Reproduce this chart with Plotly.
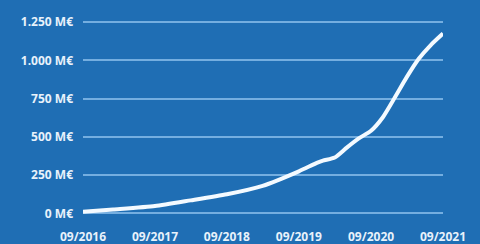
import plotly.graph_objects as go

dates = ["2016-09-01", "2017-02-01", "2017-09-01", "2018-03-01", "2018-09-01",
         "2019-03-01", "2019-09-01", "2019-12-01", "2020-01-01", "2020-03-01",
         "2020-05-01", "2020-07-01", "2020-09-01", "2020-11-01", "2021-01-01",
         "2021-03-01", "2021-05-01", "2021-07-01", "2021-09-01"]
values = [10, 25, 48, 85, 125, 180, 275, 330, 345, 365, 430, 490, 540, 630, 760,
          890, 1010, 1100, 1175]

x_tickvals = ["2016-09-01", "2017-09-01", "2018-09-01", "2019-09-01", "2020-09-01", "2021-09-01"]
x_ticktext = ["09/2016", "09/2017", "09/2018", "09/2019", "09/2020", "09/2021"]
y_tickvals = [0, 250, 500, 750, 1000, 1250]
y_ticktext = ["0 M€", "250 M€", "500 M€", "750 M€", "1.000 M€", "1.250 M€"]

bg = "#1f6eb4"
grid = "#74aee0"

fig = go.Figure()
fig.add_trace(go.Scatter(
    x=dates, y=values, mode="lines",
    line=dict(color="#f4faff", width=4, shape="spline", smoothing=0.6),
    hoverinfo="skip", showlegend=False,
))

fig.update_layout(
    width=480, height=244,
    paper_bgcolor=bg, plot_bgcolor=bg,
    margin=dict(l=83, r=37, t=19, b=26, pad=0, autoexpand=False),
    font=dict(family="Open Sans", color="#ffffff", size=12),
    showlegend=False,
)
fig.update_xaxes(
    range=["2016-09-01", "2021-09-01"],
    tickvals=x_tickvals, ticktext=x_ticktext,
    showgrid=False, zeroline=False, showline=False,
    ticks="", ticklabelstandoff=10, automargin=False,
    tickfont=dict(family="Open Sans", size=12, color="#e8f2fb", weight="bold"),
)
fig.update_yaxes(
    range=[-30, 1270],
    tickvals=y_tickvals, ticktext=y_ticktext,
    showgrid=True, gridcolor=grid, gridwidth=2,
    zeroline=False, showline=False,
    ticks="", ticklabelstandoff=9, automargin=False,
    tickfont=dict(family="Open Sans", size=12, color="#e8f2fb", weight="bold"),
)

fig.write_html(
    "out.html",
    config={"displayModeBar": False},
    post_script="document.body.style.margin='0';document.body.style.overflow='hidden';",
)
